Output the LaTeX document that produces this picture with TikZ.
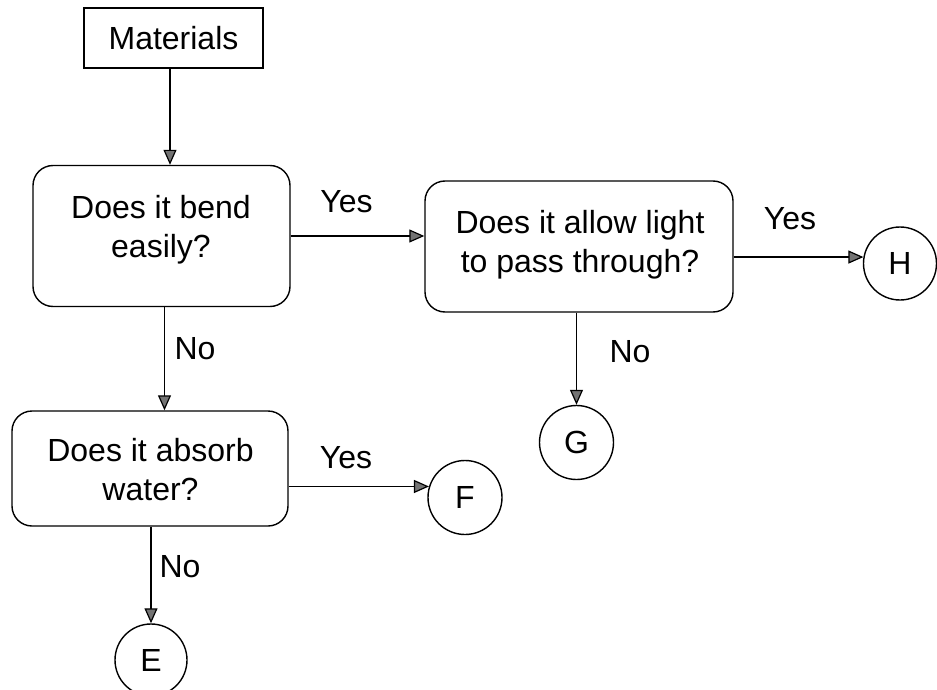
\documentclass[tikz,border=0pt]{standalone}
\usepackage{fontspec}
\setmainfont{Liberation Sans}
\usetikzlibrary{arrows.meta}
\begin{document}
\begin{tikzpicture}[x=1pt,y=-1pt,
  every node/.style={font=\fontsize{32}{39}\selectfont, inner sep=0pt},
  sqbox/.style={draw, line width=1.4pt},
  qbox/.style={draw, rounded corners=20pt, line width=1.4pt},
  endc/.style={draw, circle, line width=1.4pt},
  arr/.style={line width=1.2pt, -{Triangle[length=15pt,width=13pt,fill=black!55]}}
]
\useasboundingbox (0,0) rectangle (937,690);

% boxes
\node[sqbox, minimum width=179pt, minimum height=60pt] (mat) at (173.5,38) {Materials};
\node[qbox, minimum width=257pt, minimum height=141pt] (b1) at (161.5,236) {};
\node[align=center] (b1t) at (161,229.5) {Does it bend\\easily?};
\node[qbox, minimum width=308pt, minimum height=131pt] (b2) at (579,246.5) {};
\node[align=center] (b2t) at (580,244.5) {Does it allow light\\to pass through?};
\node[qbox, minimum width=276pt, minimum height=115pt] (b3) at (150,468.5) {};
\node[align=center] (b3t) at (150.5,470) {Does it absorb\\water?};

% end circles
\node[endc, minimum size=73pt] (H) at (900,263.5) {H};
\node[endc, minimum size=74pt] (G) at (576.5,442.5) {G};
\node[endc, minimum size=74pt] (F) at (465,497.5) {F};
\node[endc, minimum size=72pt] (E) at (151,660) {E};

% connectors
\draw[arr] ([xshift=-3.5pt]mat.south) -- ([xshift=-3.5pt]mat.south |- b1.north);
\draw[arr] (b1.east) -- (b1.east -| b2.west);
\draw[arr] (b2.east |- H.170) -- (H.170);
\draw[arr] (G.north |- b2.south) -- (G.north);
\draw[arr] ([xshift=3pt]b1.south) -- ([xshift=3pt]b1.south |- b3.north);
\draw[arr] (b3.east |- F.163) -- (F.163);
\draw[arr] (E.north |- b3.south) -- (E.north);

% labels
\node (y1) at (346.5,202) {Yes};
\node (y2) at (790,219) {Yes};
\node (y3) at (346,458) {Yes};
\node (n1) at (195,348.5) {No};
\node (n2) at (630,352) {No};
\node (n3) at (180,567) {No};
\end{tikzpicture}
\end{document}
